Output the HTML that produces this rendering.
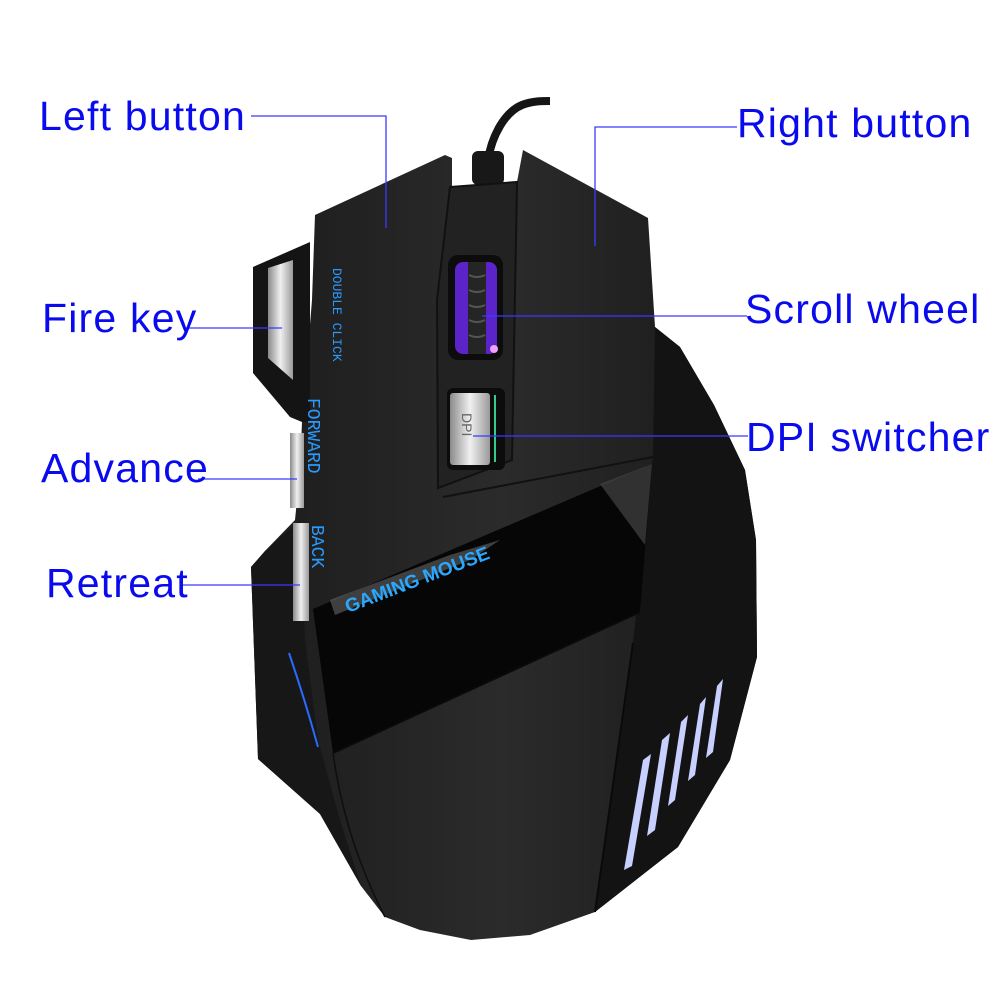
<!DOCTYPE html>
<html><head><style>
html,body{margin:0;padding:0;background:#fff;width:1001px;height:1001px;overflow:hidden}
svg{display:block}
text.l{font-family:"Liberation Sans",sans-serif;font-size:41px;letter-spacing:1.2px;fill:#0a0aee}
</style></head><body>
<svg width="1001" height="1001" viewBox="0 0 1001 1001" xmlns="http://www.w3.org/2000/svg">
<defs>
<linearGradient id="b" x1="0" y1="0" x2="1" y2="0">
<stop offset="0" stop-color="#1c1c1c"/><stop offset="0.5" stop-color="#2b2b2b"/><stop offset="1" stop-color="#181818"/>
</linearGradient>
<linearGradient id="s" x1="0" y1="0" x2="1" y2="0">
<stop offset="0" stop-color="#8a8a8a"/><stop offset="0.5" stop-color="#f0f0f0"/><stop offset="1" stop-color="#9a9a9a"/>
</linearGradient>
</defs>
<path d="M488 160 C492 135 505 112 522 105 C532 101 542 101 550 101" stroke="#151515" stroke-width="8" fill="none"/>
<rect x="472" y="151" width="32" height="34" rx="6" fill="#181818"/>
<path d="M315 215 L445 155 L452 158 L452 187 L517 182 L523 150 L648 218 L655 327 L680 347 L714 405 L745 470 L756 540 L757 657 L730 760 L678 847 L595 912 L530 935 L471 940 L420 930 L385 917 L361 886 L320 814 L258 759 L251 567 L265 551 L295 520 L300 470 L302 422 L312 300 Z" fill="url(#b)"/>
<path d="M655 327 L680 347 L714 405 L745 470 L756 540 L757 657 L730 760 L678 847 L595 912 L633 643 L653 457 Z" fill="#131313"/>
<path d="M300 520 L265 551 L251 567 L258 759 L320 814 L361 886 L340 820 L318 740 L305 640 Z" fill="#171717"/>
<path d="M450 187 L517 182 L512 460 L438 488 L437 300 Z" fill="#222" stroke="#111" stroke-width="2"/>
<path d="M443 497 L653 457" stroke="#111" stroke-width="2"/>
<rect x="448" y="255" width="55" height="105" rx="10" fill="#0c0c0c"/>
<rect x="455" y="262" width="42" height="92" rx="8" fill="#5a24c8"/>
<rect x="468" y="262" width="18" height="92" fill="#252525"/>
<path d="M469 275 q8 4 16 0 M469 290 q8 4 16 0 M469 305 q8 4 16 0 M469 320 q8 4 16 0 M469 335 q8 4 16 0" stroke="#555" stroke-width="2" fill="none"/>
<circle cx="494" cy="349" r="4" fill="#f0a0ff"/>
<rect x="447" y="388" width="58" height="82" rx="6" fill="#0c0c0c"/>
<rect x="450" y="393" width="40" height="72" rx="3" fill="url(#s)"/>
<line x1="495" y1="395" x2="495" y2="462" stroke="#3c8" stroke-width="2"/>
<text x="462" y="413" font-family="Liberation Sans" font-size="14" fill="#666" transform="rotate(90 462 413)">DPI</text>
<path d="M253 267 L310 242 L310 422 L302 422 L290 417 L253 373 Z" fill="#141414"/>
<path d="M268 268 L293 260 L293 380 L268 358 Z" fill="url(#s)"/>
<rect x="290" y="433" width="14" height="75" fill="url(#s)"/>
<rect x="293" y="523" width="16" height="98" fill="url(#s)"/>
<text x="333" y="268" font-family="Liberation Mono" font-size="13" fill="#2a9aff" transform="rotate(90 333 268)">DOUBLE  CLICK</text>
<text x="308" y="398" font-family="Liberation Mono" font-size="18" fill="#2a9aff" transform="rotate(90 308 398)">FORWARD</text>
<text x="312" y="525" font-family="Liberation Mono" font-size="18" fill="#2a9aff" transform="rotate(90 312 525)">BACK</text>
<path d="M313 609 L652 464 L640 612 L333 753 Z" fill="#060606"/>
<path d="M600 484 L652 464 L645 545 Z" fill="#444" opacity="0.7"/>
<path d="M330 600 L450 555 L500 540 L470 560 L335 615 Z" fill="#777" opacity="0.5"/>
<text x="348" y="613" font-family="Liberation Sans" font-weight="bold" font-size="19" fill="#2aa8ff" transform="rotate(-21 348 613)">GAMING MOUSE</text>
<path d="M333 753 L640 612" stroke="#0a0a0a" stroke-width="2" fill="none"/>
<path d="M633 643 L595 912" stroke="#0a0a0a" stroke-width="2" fill="none"/>
<path d="M333 753 Q345 840 385 917" stroke="#0e0e0e" stroke-width="1.5" fill="none"/>
<path d="M289 653 Q305 700 318 747" stroke="#2a6aff" stroke-width="2" fill="none"/>
<g fill="#c8d0ff">
<path d="M643 760 L651 754 L632 866 L624 870 Z"/>
<path d="M662 740 L670 733 L655 830 L647 836 Z"/>
<path d="M681 722 L688 715 L675 800 L668 806 Z"/>
<path d="M700 704 L706 697 L695 775 L688 781 Z"/>
<path d="M717 686 L723 679 L713 752 L706 758 Z"/>
</g>
<g stroke="#3a3aff" stroke-width="1.3" fill="none">
<polyline points="251,116 386,116 386,228"/>
<polyline points="737,127 595,127 595,246"/>
<polyline points="185,328 282,328"/>
<polyline points="747,316 482,316"/>
<polyline points="748,436 473,436"/>
<polyline points="198,479 297,479"/>
<polyline points="182,585 300,585"/>
</g>
<text class="l" x="39" y="130">Left button</text>
<text class="l" x="737" y="137">Right button</text>
<text class="l" x="42" y="332">Fire key</text>
<text class="l" x="745" y="323">Scroll wheel</text>
<text class="l" x="746" y="451">DPI switcher</text>
<text class="l" x="41" y="482">Advance</text>
<text class="l" x="46" y="597">Retreat</text>
</svg>
</body></html>
